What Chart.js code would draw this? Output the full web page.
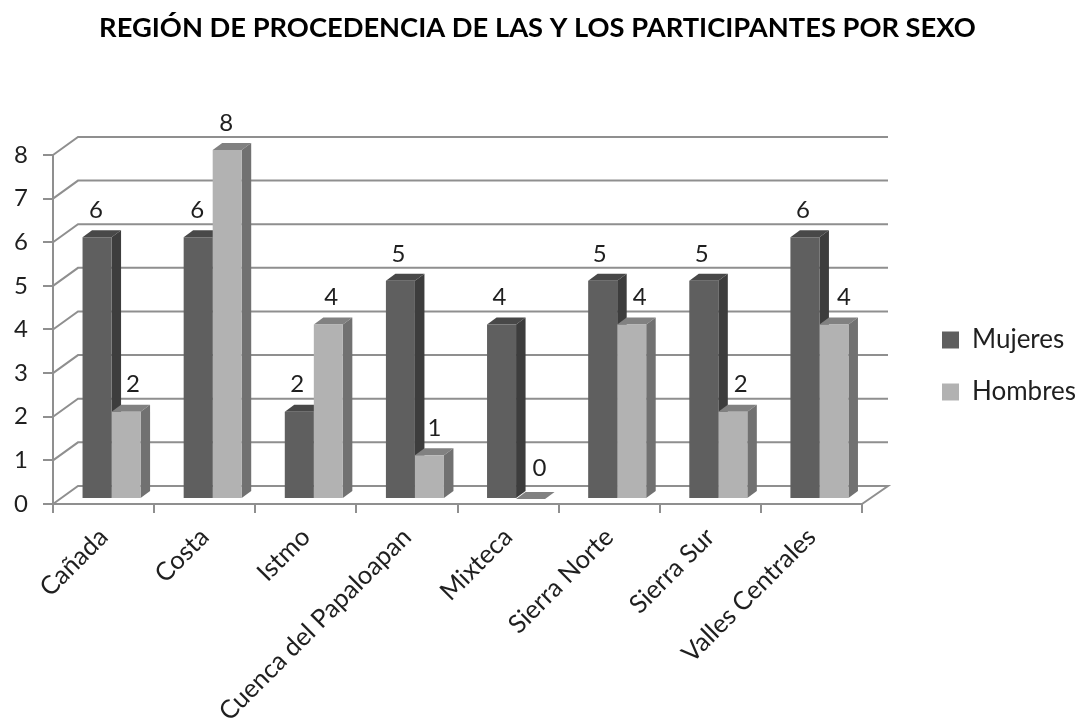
<!DOCTYPE html>
<html>
<head>
<meta charset="utf-8">
<style>html,body{margin:0;padding:0;background:#fff}canvas{display:block}</style>
<script src="https://cdn.jsdelivr.net/npm/chart.js@4/dist/chart.umd.min.js"></script>
</head>
<body>
<canvas id="c" width="1078" height="725"></canvas>
<script>
const chartTitle = 'REGIÓN DE PROCEDENCIA DE LAS Y LOS PARTICIPANTES POR SEXO';
const categories = ['Cañada','Costa','Istmo','Cuenca del Papaloapan','Mixteca','Sierra Norte','Sierra Sur','Valles Centrales'];
const mujeres = [6,6,2,5,4,5,5,6];
const hombres = [2,8,4,1,0,4,2,4];
const yTicks = [0,1,2,3,4,5,6,7,8];

const FONT = 'Lato, Carlito, sans-serif';
const GRID = '#8f8f8f';
const TEXT = '#1f1f1f';
const WALL = {dx: 25, dy: -18};
const BAR = {dx: 8, dy: -5, ddx: 9.5, ddy: -7};
const shades = [
  {top:'#484848', side:'#3d3d3d'},
  {top:'#818181', side:'#717171'}
];
const labelNudge = [
  [-1,-1,-2,-2,-2,-3,-2,-2],
  [7,-1,3,5,9,8,8,10]
];

function poly(ctx, pts, fill){
  ctx.beginPath();
  pts.forEach((p,i)=> i ? ctx.lineTo(p[0],p[1]) : ctx.moveTo(p[0],p[1]));
  ctx.closePath();
  ctx.fillStyle = fill;
  ctx.fill();
}

const walls = {
  id:'walls',
  beforeDatasetsDraw(chart){
    const {ctx} = chart, x = chart.scales.x, y = chart.scales.y;
    ctx.save();
    ctx.strokeStyle = GRID; ctx.lineWidth = 2;
    yTicks.forEach(v=>{
      const py = y.getPixelForValue(v);
      ctx.beginPath();
      ctx.moveTo(y.right, py);
      ctx.lineTo(y.right+WALL.dx, py+WALL.dy);
      ctx.lineTo(x.right+WALL.dx+1, py+WALL.dy);
      if(v===0) ctx.lineTo(x.right, py);
      ctx.stroke();
    });
    ctx.restore();
    // depth faces first: the front faces (drawn by the library) cover them where they overlap
    ctx.save();
    ctx.translate(BAR.dx, BAR.dy);
    [0,1].forEach(i=>{
      const s = shades[i];
      chart.getDatasetMeta(i).data.forEach(b=>{
        const p = b.getProps(['x','y','base','width'],true);
        const l = p.x-p.width/2, r = p.x+p.width/2;
        poly(ctx,[[l,p.y],[r,p.y],[r+BAR.ddx,p.y+BAR.ddy],[l+BAR.ddx,p.y+BAR.ddy]],s.top);
        poly(ctx,[[r,p.y],[r+BAR.ddx,p.y+BAR.ddy],[r+BAR.ddx,p.base+BAR.ddy],[r,p.base]],s.side);
      });
    });
    ctx.restore();
  },
  beforeDatasetDraw(chart){
    chart.ctx.save();
    chart.ctx.translate(BAR.dx, BAR.dy);
  },
  afterDatasetDraw(chart){ chart.ctx.restore(); },
  afterDatasetsDraw(chart){
    const {ctx} = chart;
    ctx.save();
    ctx.font = '24px '+FONT;
    ctx.fillStyle = TEXT;
    ctx.textAlign = 'center';
    ctx.textBaseline = 'middle';
    chart.data.datasets.forEach((ds,i)=>{
      chart.getDatasetMeta(i).data.forEach((b,j)=>{
        const p = b.getProps(['x','y'],true);
        const up = ds.data[j]===0 ? 31 : 27;
        ctx.fillText(String(ds.data[j]), p.x+BAR.dx+labelNudge[i][j], p.y+BAR.dy-up);
      });
    });
    ctx.restore();
  },
  afterLayout(chart){
    const lg = chart.legend, w = lg.width, h = lg.height;
    lg.left = 942 - chart.options.plugins.legend.labels.padding;
    lg.right = lg.left + w;
    lg.top = 301;
    lg.bottom = lg.top + h;
    chart.titleBlock.left = 0;
    chart.titleBlock.right = 1075;
  }
};

new Chart(document.getElementById('c'),{
  type:'bar',
  data:{
    labels:categories,
    datasets:[
      {label:'Mujeres',data:mujeres,backgroundColor:'#5f5f5f',clip:false},
      {label:'Hombres',data:hombres,backgroundColor:'#b2b2b2',clip:false}
    ]
  },
  plugins:[walls],
  options:{
    responsive:false,
    animation:false,
    events:[],
    layout:{autoPadding:false,padding:{left:0,right:216,top:0,bottom:0}},
    categoryPercentage:0.574,
    barPercentage:1,
    scales:{
      x:{
        grid:{drawOnChartArea:false,color:GRID,lineWidth:2,tickLength:9,offset:true},
        border:{color:GRID,width:2},
        ticks:{color:TEXT,font:{family:FONT,size:25.5},minRotation:45,maxRotation:45,padding:9,autoSkip:false},
        afterFit(s){ s.height = 221; }
      },
      y:{
        min:0,max:8,
        grid:{drawOnChartArea:false,color:GRID,lineWidth:2,tickLength:10},
        border:{color:GRID,width:2},
        ticks:{color:TEXT,font:{family:FONT,size:24},padding:15,stepSize:1},
        afterFit(s){ s.width = 53; }
      }
    },
    plugins:{
      title:{display:true,text:chartTitle,color:'#000',font:{family:FONT,size:27.3,weight:'bold'},padding:{top:12,bottom:110.2}},
      legend:{
        display:true,position:'chartArea',align:'start',
        labels:{color:TEXT,font:{family:FONT,size:26},boxWidth:17,boxHeight:17,padding:26}
      },
      tooltip:{enabled:false}
    }
  }
});
</script>
</body>
</html>
